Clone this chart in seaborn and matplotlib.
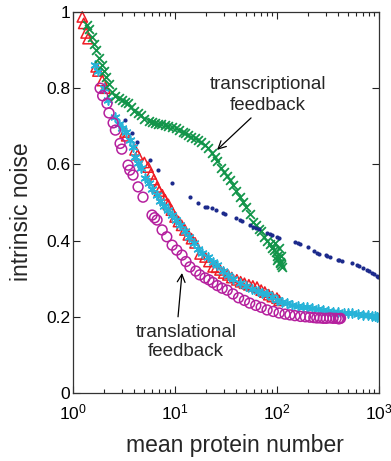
import pandas as pd
import seaborn as sns
import matplotlib.pyplot as plt
from matplotlib.ticker import FixedLocator, FixedFormatter, NullLocator

# --- Data ---
green_x = [1.38, 1.44, 1.52, 1.6, 1.68, 1.78, 1.9, 2.0, 2.1, 2.25, 2.4, 2.6, 2.8, 3.0, 3.2,
           3.46, 3.7, 4.0, 4.34, 4.6, 5.0, 5.5, 6.0, 6.36, 6.8, 7.3, 7.9, 8.5, 9.37, 10.2,
           11, 12, 12.5, 13.5, 14.5, 15.6, 16.8, 18, 19.5, 21, 23, 24.5, 26, 28, 30,
           32.5, 34.6, 37, 40, 43, 46, 50, 54, 58, 62, 66, 70, 75, 80, 85,
           90, 94, 98, 100, 103, 106, 108, 110, 112, 96, 104, 109, 101]
green_y = [0.965, 0.955, 0.935, 0.915, 0.90, 0.88, 0.86, 0.845, 0.83, 0.81, 0.79, 0.78, 0.775, 0.77, 0.765,
           0.76, 0.75, 0.74, 0.735, 0.73, 0.72, 0.715, 0.712, 0.709, 0.707, 0.705, 0.703, 0.70, 0.698, 0.695,
           0.69, 0.685, 0.682, 0.678, 0.673, 0.668, 0.664, 0.658, 0.65, 0.642, 0.63, 0.62, 0.61, 0.59, 0.58,
           0.57, 0.559, 0.545, 0.53, 0.515, 0.50, 0.488, 0.47, 0.45, 0.44, 0.43, 0.425, 0.41, 0.40, 0.39,
           0.38, 0.375, 0.37, 0.36, 0.355, 0.345, 0.34, 0.335, 0.33, 0.395, 0.38, 0.36, 0.35]

navy_x = [3.23, 3.79, 4.24, 5.7, 6.8, 9.37, 14, 16.8, 19.7, 20.6, 23, 25, 29.5, 31, 40,
          43, 45, 55, 58, 62, 66, 80, 85, 90, 100, 105, 150, 160, 168, 200,
          230, 246, 260, 300, 310, 330, 400, 410, 430, 550, 610, 640, 700, 760, 800,
          850, 900, 950, 980]
navy_y = [0.717, 0.682, 0.659, 0.612, 0.585, 0.551, 0.514, 0.499, 0.488, 0.488, 0.486, 0.48, 0.472, 0.47, 0.458,
          0.454, 0.452, 0.44, 0.436, 0.432, 0.43, 0.42, 0.418, 0.415, 0.41, 0.408, 0.397, 0.394, 0.392, 0.383,
          0.374, 0.367, 0.366, 0.362, 0.36, 0.357, 0.35, 0.349, 0.346, 0.34, 0.336, 0.333, 0.328, 0.323, 0.32,
          0.316, 0.312, 0.308, 0.304]

red_x = [1.23, 1.27, 1.34, 1.40, 1.68, 1.75, 1.93, 2.05, 3.23, 3.35, 4.05, 4.3, 5.0, 5.44, 5.8,
         6.2, 6.66, 7.0, 7.5, 8.0, 8.6, 9.2, 10, 10.8, 11.6, 12.5, 13.5, 14.5, 15.7, 17.6,
         19.7, 21.5, 23.6, 25.5, 27.6, 30, 33, 36, 40.4, 44, 48, 53, 58, 63.7, 70,
         76, 83, 90, 100, 105]
red_y = [0.987, 0.97, 0.945, 0.93, 0.856, 0.845, 0.82, 0.80, 0.685, 0.675, 0.638, 0.625, 0.605, 0.593, 0.575,
         0.56, 0.541, 0.53, 0.52, 0.507, 0.495, 0.48, 0.462, 0.45, 0.44, 0.428, 0.415, 0.405, 0.394, 0.365,
         0.357, 0.345, 0.331, 0.33, 0.323, 0.315, 0.31, 0.303, 0.297, 0.292, 0.288, 0.284, 0.281, 0.278, 0.27,
         0.265, 0.258, 0.253, 0.249, 0.243]

cyan_x = [1.65, 1.75, 2.0, 2.2, 2.58, 2.8, 3.0, 3.3, 3.6, 3.85, 4.05, 4.3, 4.6, 5.1, 5.5,
          6.0, 6.6, 7.2, 7.8, 8.5, 9.4, 10.3, 11.3, 12.5, 13.8, 15.2, 16.8, 18.5, 21, 23.5,
          26, 29.5, 33, 37, 43, 50, 57, 65, 72, 80, 90, 100, 112, 125, 140,
          160, 180, 197, 220, 250, 280, 320, 355, 400, 450, 500, 550, 620, 700, 780,
          860, 920, 960, 1000]
cyan_y = [0.86, 0.845, 0.80, 0.77, 0.724, 0.705, 0.695, 0.685, 0.665, 0.645, 0.62, 0.604, 0.59, 0.565, 0.55,
          0.535, 0.52, 0.505, 0.49, 0.48, 0.467, 0.455, 0.44, 0.425, 0.41, 0.395, 0.378, 0.368, 0.357, 0.345,
          0.335, 0.32, 0.31, 0.30, 0.289, 0.28, 0.273, 0.267, 0.263, 0.26, 0.252, 0.245, 0.24, 0.236, 0.232,
          0.228, 0.226, 0.226, 0.222, 0.22, 0.218, 0.216, 0.213, 0.212, 0.211, 0.21, 0.21, 0.208, 0.206, 0.205,
          0.203, 0.202, 0.2, 0.2]

mag_x = [1.84, 1.95, 2.15, 2.25, 2.47, 2.6, 2.89, 3.0, 3.46, 3.6, 3.87, 4.34, 4.85, 5.95, 6.3,
         6.66, 7.47, 8.3, 9.37, 10.4, 11.7, 12.8, 14.0, 16.0, 17.5, 19.7, 21.5, 23.5, 26, 29,
         32.5, 37, 42, 48, 54, 62, 70, 80, 92, 105, 120, 134, 150, 170, 190,
         210, 230, 246, 265, 285, 305, 330, 355, 380, 400, 410, 420]
mag_y = [0.80, 0.78, 0.76, 0.735, 0.709, 0.69, 0.655, 0.64, 0.598, 0.585, 0.572, 0.541, 0.514, 0.467, 0.46,
         0.454, 0.428, 0.41, 0.388, 0.375, 0.362, 0.345, 0.331, 0.32, 0.31, 0.302, 0.297, 0.29, 0.282, 0.275,
         0.27, 0.26, 0.25, 0.243, 0.236, 0.23, 0.225, 0.218, 0.214, 0.21, 0.207, 0.205, 0.203, 0.201, 0.2,
         0.199, 0.198, 0.197, 0.197, 0.196, 0.196, 0.197, 0.196, 0.196, 0.195, 0.195, 0.196]

y_ticks = [0, 0.2, 0.4, 0.6, 0.8, 1]
y_tick_labels = ['0', '0.2', '0.4', '0.6', '0.8', '1']

# --- Style ---
sns.set_style("ticks")
plt.rcParams['font.family'] = ['Liberation Sans', 'DejaVu Sans']
plt.rcParams['mathtext.default'] = 'regular'

fig, ax = plt.subplots(figsize=(3.91, 4.61), dpi=100)
fig.subplots_adjust(left=0.187, right=0.969, bottom=0.1475, top=0.974)

# --- Series ---
sns.scatterplot(x=red_x, y=red_y, marker='^', s=55, facecolors='none',
                edgecolor='#ee1c25', linewidth=1.1, ax=ax, clip_on=False)
sns.scatterplot(x=cyan_x, y=cyan_y, marker=(6, 2, 0), s=40, color='#27b3d8',
                edgecolor='#27b3d8', linewidth=1.2, ax=ax)
sns.scatterplot(x=mag_x, y=mag_y, marker='o', s=50, facecolors='none',
                edgecolor='#b5209e', linewidth=1.1, ax=ax)
sns.scatterplot(x=green_x, y=green_y, marker='x', s=40, color='#12954a',
                linewidth=1.3, ax=ax)
sns.scatterplot(x=navy_x, y=navy_y, marker='o', s=9, color='#1c2a8c',
                edgecolor='#1c2a8c', linewidth=0, ax=ax)

# --- Axes ---
ax.set_xscale('log')
ax.set_xlim(1, 1000)
ax.set_ylim(0, 1)
ax.yaxis.set_major_locator(FixedLocator(y_ticks))
ax.yaxis.set_major_formatter(FixedFormatter(y_tick_labels))
ax.yaxis.set_minor_locator(NullLocator())
ax.tick_params(which='both', direction='in', top=True, right=True, colors='#222222',
               labelcolor='black', labelsize=12.5)
ax.tick_params(which='major', length=5, width=0.8)
ax.tick_params(which='minor', length=3, width=0.8)
ax.tick_params(axis='x', pad=7)
ax.tick_params(axis='y', pad=2)
for sp in ax.spines.values():
    sp.set_linewidth(0.9)
    sp.set_color('#333333')

lab_font = dict(family=['Liberation Sans', 'DejaVu Sans'], size=16.5)
ax.set_xlabel('mean protein number', **lab_font)
ax.set_ylabel('intrinsic noise', **lab_font)
ax.xaxis.set_label_coords(0.53, -0.108)
ax.yaxis.set_label_coords(-0.13, 0.475)

# --- Annotations ---
ann_font = dict(family=['Liberation Sans', 'DejaVu Sans'], size=13.5)
arrow = dict(arrowstyle='->', color='black', lw=0.9, shrinkA=0, shrinkB=0,
             mutation_scale=14)
ax.annotate('', xy=(25.8, 0.638), xytext=(55.7, 0.722), arrowprops=arrow)
ax.text(81.6, 0.782, 'transcriptional\nfeedback', ha='center', va='center',
        linespacing=1.35, **ann_font)
ax.annotate('', xy=(11.7, 0.315), xytext=(10.7, 0.2), arrowprops=arrow)
ax.text(12.8, 0.134, 'translational\nfeedback', ha='center', va='center',
        linespacing=1.1, **ann_font)

fig.savefig('out.png', dpi=100)
